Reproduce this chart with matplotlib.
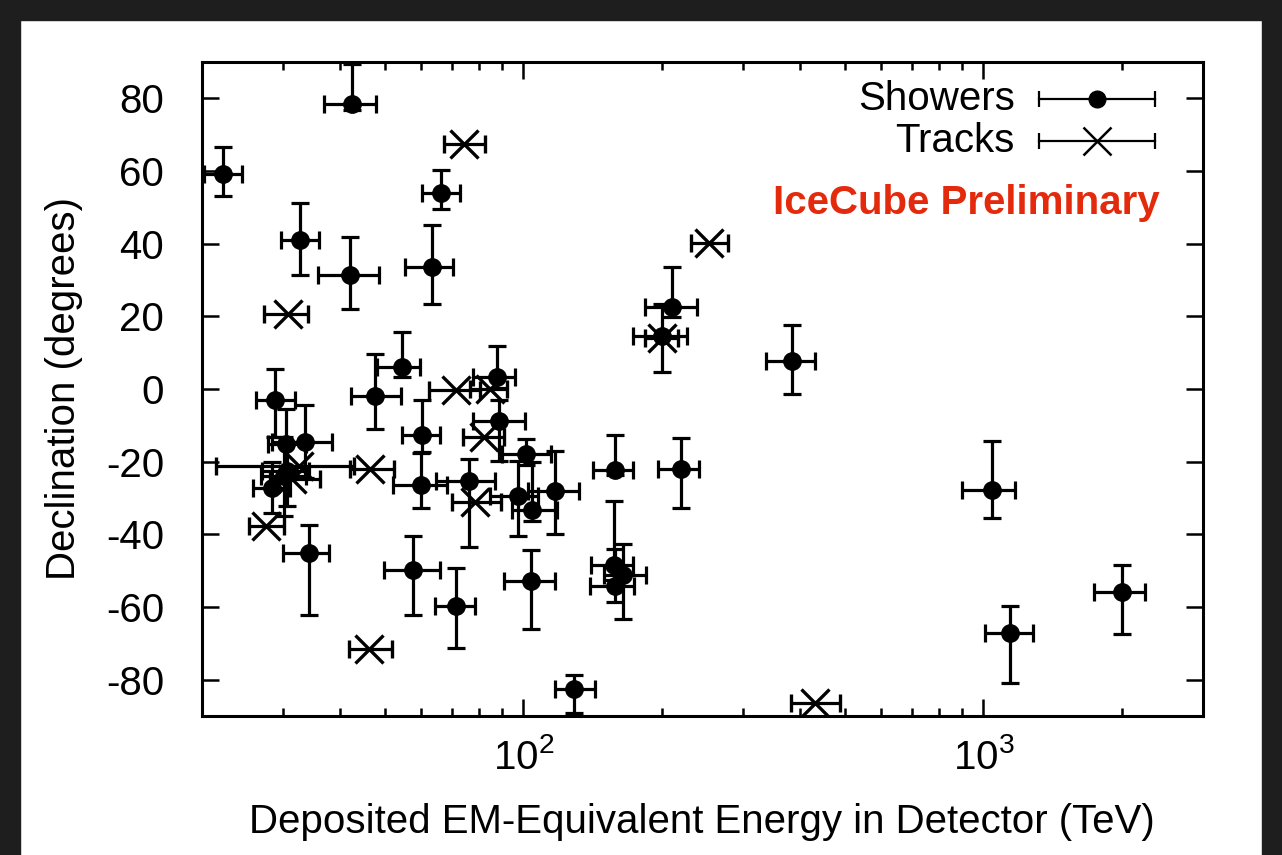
import numpy as np
import matplotlib
matplotlib.use('Agg')
import matplotlib.pyplot as plt
from matplotlib.patches import Rectangle
from matplotlib.ticker import NullFormatter

plt.rcParams['font.family'] = ['Liberation Sans', 'DejaVu Sans']
plt.rcParams['mathtext.default'] = 'regular'
plt.rcParams['axes.unicode_minus'] = False

# showers: energy (TeV), energy errors, declination (deg), declination errors
sh_E = np.array([47.6, 117, 165, 28.4, 34.3, 63.2, 97.2, 88.4, 104, 1041, 57.5, 30.6, 200,
                 71.5, 1141, 30.2, 220, 30.5, 33.5, 210, 60.2, 32.7, 129, 42.5, 384, 42.1,
                 2004, 28.9, 101.3, 157.3, 87.6, 76.3, 158.0, 104.7, 59.9, 22.2, 66.2, 158.1, 54.5])
sh_E_hi = np.array([6.5, 15, 20, 2.7, 3.5, 7.1, 10.4, 12.5, 13, 132, 8.3, 3.6, 27,
                    7.0, 143, 3.5, 21, 3.2, 4.9, 29, 5.6, 3.2, 14, 5.4, 46, 6.5,
                    236, 3.0, 13.3, 15.9, 8.4, 10.3, 15.3, 13.5, 8.3, 2.3, 6.7, 16.3, 5.1])
sh_E_lo = np.array([5.4, 14.6, 15, 2.5, 4.3, 8.0, 12.4, 10.7, 13, 144, 7.8, 3.5, 27,
                    7.2, 133, 3.3, 24, 2.6, 5.0, 26, 5.6, 2.9, 12, 5.7, 48, 6.3,
                    262, 2.6, 11.6, 16.7, 10.0, 11.6, 16.6, 10.2, 7.9, 2.0, 6.1, 18.4, 6.3])
sh_dec = np.array([-1.8, -28.0, -51.2, -27.2, -45.1, 33.6, -29.4, -8.9, -52.8, -27.9, -49.7, -22.6, 14.5,
                   -59.7, -67.2, -24.0, -22.1, -15.1, -14.5, 22.7, -12.6, 41.0, -82.7, 78.3, 7.8, 31.3,
                   -55.8, -3.0, -17.9, -48.5, 3.3, -25.3, -22.3, -33.2, -26.3, 59.3, 54.0, -54.1, 6.0])
sh_dec_hi = np.array([11.3, 11, 8.4, 7, 7.7, 11.5, 9.6, 6, 8.4, 13.6, 9.2, 8, 9,
                      10.5, 7.5, 10.8, 8.6, 9.6, 10.2, 10.8, 9.6, 10.2, 4.1, 11.2, 9.7, 10.5,
                      7.3, 8.5, 4.1, 17.7, 8.6, 6.1, 9.7, 13, 8.8, 7.2, 6.4, 10, 9.6])
sh_dec_lo = np.array([9.2, 11.8, 12.2, 7, 17.2, 10.3, 11.1, 11, 13.2, 7.7, 12.6, 9.6, 9.9,
                      11.6, 13.6, 11, 10.7, 8, 10, 3, 4.8, 9.7, 6.5, 1.5, 9.2, 9.3,
                      11.7, 10.3, 3, 4, 3, 18.3, 1.5, 3, 6.4, 6.3, 4.6, 4.5, 2.8])

# tracks
tr_E = np.array([78.7, 71.4, 32.6, 253, 31.5, 82.2, 46.1, 30.8, 200.5, 46.5, 84.6, 429.9, 74.3, 27.6])
tr_E_hi = np.array([10.8, 9.0, 10.3, 26, 4.6, 8.6, 5.7, 3.3, 16.4, 5.9, 7.4, 57.4, 8.3, 2.6])
tr_E_lo = np.array([8.7, 9.0, 11.1, 22, 3.3, 8.4, 4.4, 3.5, 16.4, 4.5, 7.9, 49.1, 7.2, 2.2])
tr_dec = np.array([-31.2, -0.4, -21.2, 40.3, -24.8, -13.2, -71.5, 20.7, 14.0, -22.0, 0.0, -86.3, 67.4, -37.7])

fig = plt.figure(figsize=(12.82, 8.55), dpi=100)
ax = fig.add_axes([0.1573, 0.1626, 0.7811, 0.7649])

ax.errorbar(sh_E, sh_dec, xerr=[sh_E_lo, sh_E_hi], yerr=[sh_dec_lo, sh_dec_hi],
            fmt='o', color='black', ms=12.5, elinewidth=2.3, capsize=6.5, capthick=2.3)
ax.errorbar(tr_E, tr_dec, xerr=[tr_E_lo, tr_E_hi],
            fmt='x', color='black', ms=20, mew=2.4, elinewidth=2.3, capsize=6.5, capthick=2.3)

ax.set_xscale('log')
ax.set_xlim(20, 3000)
ax.set_ylim(-90, 90)
ax.set_yticks(np.arange(-80, 81, 20))
ax.xaxis.set_minor_formatter(NullFormatter())

fs = 29
ax.tick_params(which='both', direction='in', top=True, right=True, width=1.8, labelsize=fs)
ax.tick_params(which='major', length=12.5)
ax.tick_params(which='minor', length=6)
ax.tick_params(axis='y', pad=27)
ax.tick_params(axis='x', pad=16)
for s in ax.spines.values():
    s.set_linewidth(2.2)

ax.set_xlabel('Deposited EM-Equivalent Energy in Detector (TeV)', fontsize=fs)
ax.set_ylabel('Declination (degrees)', fontsize=fs)
ax.xaxis.set_label_coords(0.5, -0.133)
ax.yaxis.set_label_coords(-0.118, 0.5)

# legend drawn by hand so the labels sit right-aligned left of the samples
x0, x1, xm, xt = 0.836, 0.952, 0.894, 0.812
for yy, lab, mk in [(0.9434, 'Showers', 'o'), (0.8798, 'Tracks', 'x')]:
    ax.plot([x0, x1], [yy, yy], transform=ax.transAxes, color='black', lw=1.6, clip_on=False)
    ax.plot([x0, x1], [yy, yy], transform=ax.transAxes, ls='none', marker='|', ms=12,
            mew=1.6, color='black', clip_on=False)
    if mk == 'o':
        ax.plot([xm], [yy], transform=ax.transAxes, marker='o', ms=12, color='black')
    else:
        ax.plot([xm], [yy], transform=ax.transAxes, marker='x', ms=20, mew=1.8, color='black')
    ax.text(xt, yy, lab, transform=ax.transAxes, ha='right', va='center', fontsize=fs)

ax.text(0.957, 0.784, 'IceCube Preliminary', transform=ax.transAxes, ha='right', va='center',
        fontsize=fs, fontweight='bold', color='#e42a0c')

# dark frame around the screenshot
for r in [(0, 1 - 20 / 855, 1, 20 / 855), (0, 0, 20 / 1282, 1), (1 - 20 / 1282, 0, 20 / 1282, 1)]:
    fig.patches.append(Rectangle(r[:2], r[2], r[3], transform=fig.transFigure,
                                 color='#1e1e1e', zorder=10))

fig.savefig('out.png', dpi=100)
